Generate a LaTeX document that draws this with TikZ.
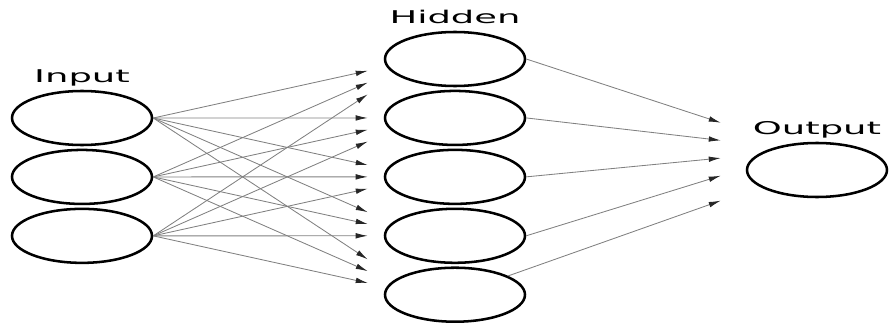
\documentclass[tikz,border=0pt]{standalone}
\usepackage{fontspec}
\newfontfamily\lblfont[FakeStretch=2.1]{DejaVu Sans}
\usetikzlibrary{shapes.geometric, arrows.meta, positioning, calc}

\begin{document}
\begin{tikzpicture}[
        node distance=0.06cm,
        neuron/.style={ellipse, draw=black, line width=1.8pt, minimum width=3.5cm, minimum height=1.35cm, inner sep=0pt},
        layer/.style={anchor=base, inner sep=0pt, font=\lblfont\fontsize{12.5}{14}\selectfont},
        arrow/.style={-{Latex[length=0.3cm, width=0.14cm, color=black!85]}, draw=black!50, line width=0.6pt}
    ]
        \useasboundingbox (0,0) rectangle (22.3,-8.225);

        \node[neuron] (i1) at (2.05,-2.95) {};
        \node[neuron, below=of i1] (i2) {};
        \node[neuron, below=of i2] (i3) {};

        \node[neuron] (h1) at (11.375,-1.475) {};
        \node[neuron, below=of h1] (h2) {};
        \node[neuron, below=of h2] (h3) {};
        \node[neuron, below=of h3] (h4) {};
        \node[neuron, below=of h4] (h5) {};

        \node[neuron] (o) at (20.425,-4.25) {};

        \node[layer] (inlbl) at ([yshift=0.17cm]i1.north) {Input};
        \node[layer] (hidlbl) at ([yshift=0.17cm]h1.north) {Hidden};
        \node[layer] (outlbl) at ([yshift=0.17cm]o.north) {Output};

        \coordinate (hin1) at ([xshift=-0.4cm]h1.west);
        \coordinate (hin2) at ([xshift=-0.4cm]h2.west);
        \coordinate (hin3) at ([xshift=-0.4cm]h3.west);
        \coordinate (hin4) at ([xshift=-0.4cm]h4.west);
        \coordinate (hin5) at ([xshift=-0.4cm]h5.west);
        \coordinate (oin) at ([xshift=-0.625cm, yshift=0.5cm]o.west);

        \draw[arrow] (i1.east) -- ($(hin1)!0.2!(hin1 |- i1.east)$);
        \draw[arrow] (i1.east) -- ($(hin2)!0.2!(hin2 |- i1.east)$);
        \draw[arrow] (i1.east) -- ($(hin3)!0.2!(hin3 |- i1.east)$);
        \draw[arrow] (i1.east) -- ($(hin4)!0.2!(hin4 |- i1.east)$);
        \draw[arrow] (i1.east) -- ($(hin5)!0.2!(hin5 |- i1.east)$);
        \draw[arrow] (i2.east) -- ($(hin1)!0.2!(hin1 |- i2.east)$);
        \draw[arrow] (i2.east) -- ($(hin2)!0.2!(hin2 |- i2.east)$);
        \draw[arrow] (i2.east) -- ($(hin3)!0.2!(hin3 |- i2.east)$);
        \draw[arrow] (i2.east) -- ($(hin4)!0.2!(hin4 |- i2.east)$);
        \draw[arrow] (i2.east) -- ($(hin5)!0.2!(hin5 |- i2.east)$);
        \draw[arrow] (i3.east) -- ($(hin1)!0.2!(hin1 |- i3.east)$);
        \draw[arrow] (i3.east) -- ($(hin2)!0.2!(hin2 |- i3.east)$);
        \draw[arrow] (i3.east) -- ($(hin3)!0.2!(hin3 |- i3.east)$);
        \draw[arrow] (i3.east) -- ($(hin4)!0.2!(hin4 |- i3.east)$);
        \draw[arrow] (i3.east) -- ($(hin5)!0.2!(hin5 |- i3.east)$);

        \draw[arrow] (h1.east) -- ($(oin)!0.3!(oin |- h1.east)$);
        \draw[arrow] (h2.east) -- ($(oin)!0.3!(oin |- h2.east)$);
        \draw[arrow] (h3.east) -- ($(oin)!0.3!(oin |- h3.east)$);
        \draw[arrow] (h4.east) -- ($(oin)!0.3!(oin |- h4.east)$);
        \draw[arrow] (h5) -- ($(oin)!0.35!(oin |- h5.east)$);
    \end{tikzpicture}
\end{document}
